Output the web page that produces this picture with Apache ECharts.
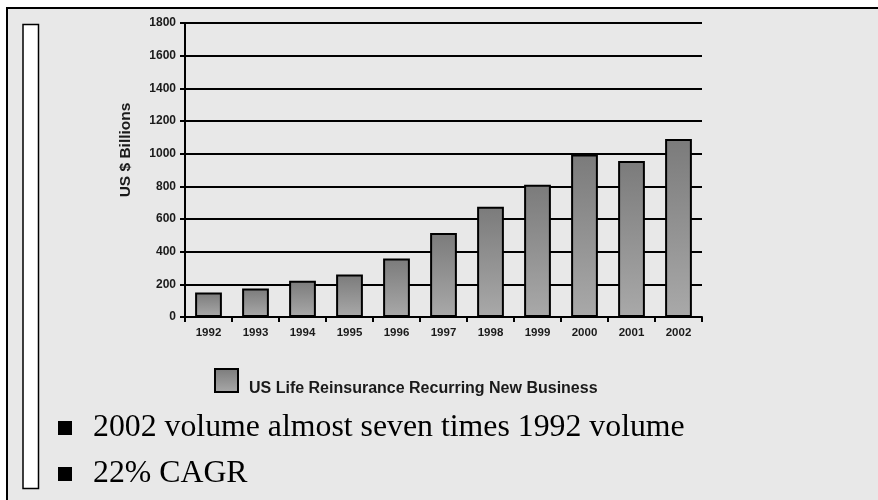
<!DOCTYPE html>
<html>
<head>
<meta charset="utf-8">
<script src="https://cdn.jsdelivr.net/npm/echarts@6/dist/echarts.min.js"></script>
<style>
  html, body { margin: 0; padding: 0; background: #ffffff; }
  #chart { width: 878px; height: 500px; }
</style>
</head>
<body>
<div id="chart"></div>
<script>
// US life reinsurance recurring new business, US $ billions
const years = ['1992', '1993', '1994', '1995', '1996', '1997', '1998', '1999', '2000', '2001', '2002'];
const volumes = [150, 175, 222, 260, 358, 515, 675, 810, 995, 955, 1090];
const seriesName = 'US Life Reinsurance Recurring New Business';
const axisTitle = 'US $ Billions';
const bullets = ['2002 volume almost seven times 1992 volume', '22% CAGR'];

const barFill = new echarts.graphic.LinearGradient(0, 0, 0, 1, [
  { offset: 0, color: '#7b7b7b' },
  { offset: 1, color: '#a9a9a9' }
]);

const chart = echarts.init(document.getElementById('chart'), null, { renderer: 'canvas' });

const SANS = '"Liberation Sans", Arial, sans-serif';
const SERIF = '"Liberation Serif", "Times New Roman", serif';
const sansBold = { fontFamily: SANS, fontWeight: 'bold', color: '#1a1a1a' };

chart.setOption({
  backgroundColor: '#ffffff',
  animation: false,
  graphic: [
    // slide panel with black top/left edge
    { type: 'rect', z: -10, shape: { x: 7, y: 8, width: 950, height: 560 },
      style: { fill: '#e8e8e8', stroke: '#000', lineWidth: 2 } },
    // white side bar
    { type: 'rect', z: -5, shape: { x: 23, y: 24.5, width: 15.5, height: 464 },
      style: { fill: '#ffffff', stroke: '#000', lineWidth: 1.5 } },
    // rotated value-axis title
    { type: 'text', x: 126, y: 150, rotation: Math.PI / 2,
      style: { text: axisTitle, fontSize: 15.5, fontWeight: 'bold', fontFamily: SANS,
        align: 'center', verticalAlign: 'middle', fill: '#1a1a1a' } },
    // bullet list
    { type: 'rect', shape: { x: 58, y: 421, width: 14, height: 14 }, style: { fill: '#000' } },
    { type: 'text', x: 93, y: 428, style: { text: bullets[0], verticalAlign: 'middle',
      fontSize: 31.8, fontFamily: SERIF, fill: '#000' } },
    { type: 'rect', shape: { x: 58, y: 467, width: 14, height: 14 }, style: { fill: '#000' } },
    { type: 'text', x: 93, y: 474, style: { text: bullets[1], verticalAlign: 'middle',
      fontSize: 31.8, fontFamily: SERIF, fill: '#000' } }
  ],
  legend: {
    left: 214, top: 364, padding: 0,
    itemWidth: 23, itemHeight: 23, itemGap: 8,
    // the label sits a little below the swatch centre
    formatter: name => '{gap| }\n{t|' + name + '}',
    textStyle: {
      rich: {
        gap: { fontSize: 1, height: 17, lineHeight: 17 },
        t: { fontSize: 16, fontWeight: 'bold', fontFamily: SANS, color: '#1a1a1a', lineHeight: 16,
          padding: [0, 0, 0, 6] }
      }
    },
    data: [{ name: seriesName, icon: 'rect' }]
  },
  grid: { left: 185, right: 176, top: 23, bottom: 183, containLabel: false },
  xAxis: {
    type: 'category',
    data: years,
    boundaryGap: true,
    axisLine: { lineStyle: { color: '#000', width: 2 } },
    axisTick: { show: true, length: 5, alignWithLabel: false, lineStyle: { color: '#000', width: 2 } },
    axisLabel: Object.assign({ fontSize: 11.5, margin: 10, interval: 0 }, sansBold)
  },
  yAxis: {
    type: 'value',
    min: 0, max: 1800, interval: 200,
    axisLine: { show: true, lineStyle: { color: '#000', width: 2 } },
    axisTick: { show: true, length: 5, lineStyle: { color: '#000', width: 2 } },
    axisLabel: Object.assign({ fontSize: 12, margin: 9, formatter: v => String(v) }, sansBold),
    splitLine: { show: true, lineStyle: { color: '#000', width: 2 } }
  },
  series: [{
    name: seriesName,
    type: 'bar',
    data: volumes,
    barWidth: '57%',
    itemStyle: { color: barFill, borderColor: '#000', borderWidth: 2 }
  }]
});
</script>
</body>
</html>
